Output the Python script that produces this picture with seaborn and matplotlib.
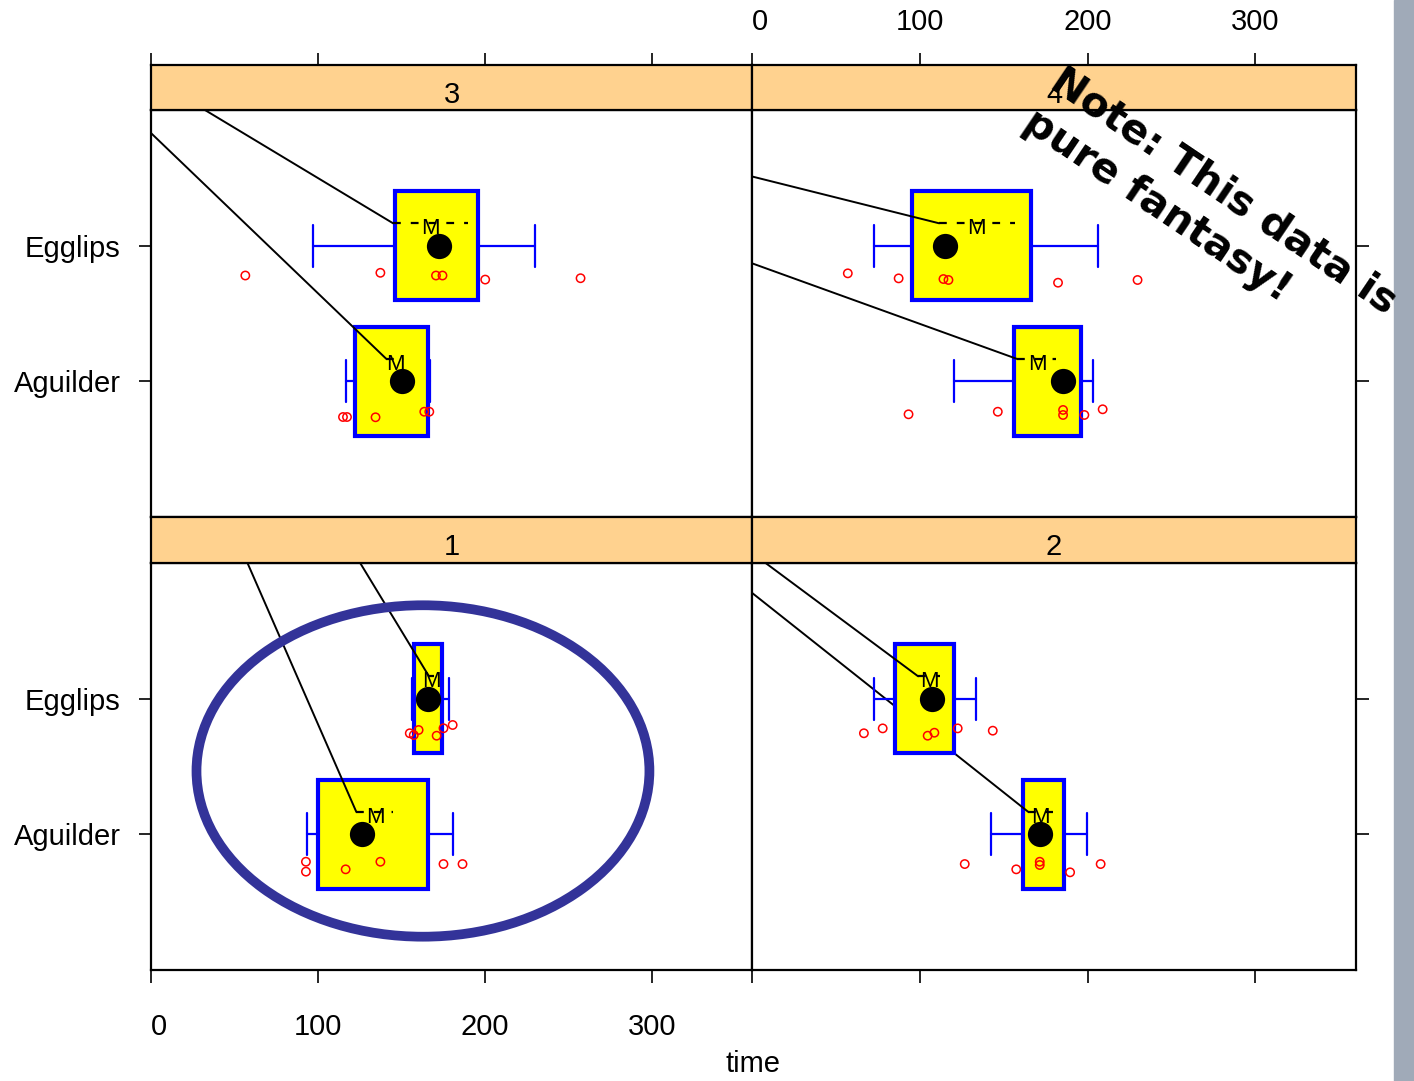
import numpy as np
import pandas as pd
import matplotlib
matplotlib.use("Agg")
import matplotlib.pyplot as plt
from matplotlib.patches import Ellipse, Rectangle
import seaborn as sns

# ---- data ----
panel_id = [1, 1, 2, 2, 3, 3, 4, 4]
group = ['Aguilder', 'Egglips'] * 4
q1 = [100.1, 157.3, 161.7, 85.3, 122.3, 146.3, 156.3, 95.1]
q3 = [165.8, 174.5, 185.7, 120.3, 165.7, 195.6, 195.9, 166.0]
whis_lo = [93.2, 156.2, 142.3, 72.8, 117.0, 97.0, 120.4, 72.8]
whis_hi = [180.9, 178.4, 199.4, 133.8, 167.3, 230.0, 203.5, 206.5]
median = [126.5, 165.8, 171.5, 107.5, 150.2, 172.3, 185.5, 115.3]
mean_lo = [123.0, 166.5, 164.7, 99.0, 141.0, 145.0, 158.0, 111.5]
mean_val = [134.5, 168.0, 172.2, 105.6, 146.4, 167.5, 170.0, 133.5]
mean_hi = [145.0, 169.5, 179.7, 112.0, 151.8, 189.6, 181.0, 157.0]
# where the connector lines enter each panel
link_x = [57.8, 125.3, 0.0, 8.1, 0.0, 32.3, 0.0, 0.0]
link_y = [3.0, 3.0, 2.78, 3.0, 2.83, 3.0, 1.87, 2.51]

pt_panel = [1] * 12 + [2] * 12 + [3] * 11 + [4] * 12
pt_group = (['Aguilder'] * 6 + ['Egglips'] * 6) * 2 + ['Aguilder'] * 5 + ['Egglips'] * 6 \
    + ['Aguilder'] * 6 + ['Egglips'] * 6
pt_x = [92.8, 92.8, 116.6, 137.4, 175.2, 186.6,
        155.0, 157.4, 160.3, 171.1, 175.2, 180.7,
        126.8, 157.5, 171.5, 171.5, 189.6, 207.8,
        66.7, 77.9, 104.7, 108.7, 122.6, 143.5,
        115.0, 117.4, 134.5, 163.7, 166.7,
        56.5, 137.4, 170.7, 174.6, 200.2, 257.3,
        93.3, 146.5, 185.4, 185.4, 198.1, 209.0,
        57.1, 87.4, 114.1, 117.1, 182.4, 229.8]
pt_y = [0.798, 0.725, 0.742, 0.798, 0.781, 0.781,
        1.745, 1.732, 1.769, 1.727, 1.782, 1.806,
        0.781, 0.742, 0.798, 0.774, 0.720, 0.781,
        1.745, 1.781, 1.727, 1.749, 1.781, 1.764,
        0.737, 0.737, 0.735, 0.776, 0.776,
        1.780, 1.800, 1.780, 1.780, 1.750, 1.760,
        0.757, 0.776, 0.789, 0.752, 0.752, 0.794,
        1.796, 1.759, 1.754, 1.747, 1.727, 1.747]

x_ticks = [0, 100, 200, 300]
x_tick_labels = ['0', '100', '200', '300']
y_levels = ['Aguilder', 'Egglips']

stats = pd.DataFrame({'panel': panel_id, 'group': group, 'q1': q1, 'q3': q3,
                      'whislo': whis_lo, 'whishi': whis_hi, 'med': median,
                      'mlo': mean_lo, 'mean': mean_val, 'mhi': mean_hi,
                      'lx': link_x, 'ly': link_y})
stats['ypos'] = stats['group'].map({g: i + 1 for i, g in enumerate(y_levels)})
pts = pd.DataFrame({'panel': pt_panel, 'group': pt_group, 'x': pt_x, 'y': pt_y})

sns.set_theme(style="white")
plt.rcParams['font.family'] = ['Liberation Sans', 'DejaVu Sans']

W, H = 1414, 1081
fig = plt.figure(figsize=(W / 100, H / 100), dpi=100)
fig.patch.set_facecolor('white')


def rect(x0, x1, y0, y1):
    return [x0 / W, 1 - y1 / H, (x1 - x0) / W, (y1 - y0) / H]


XLIM = (0, 360)
cols = [(151, 752), (752, 1356)]
rows = [(65, 110, 517), (517, 563, 970)]
layout = {3: (0, 0), 4: (0, 1), 1: (1, 0), 2: (1, 1)}

for p, (r, c) in layout.items():
    x0, x1 = cols[c]
    s0, s1, p1 = rows[r]
    ax = fig.add_axes(rect(x0, x1, s1, p1))
    sax = fig.add_axes(rect(x0, x1, s0, s1))

    sub = stats[stats['panel'] == p].sort_values('ypos')
    for k, (_, row) in enumerate(sub.iterrows()):
        z = 2 + 2 * k
        y = row['ypos']
        bs = dict(med=row['med'], q1=row['q1'], q3=row['q3'],
                  whislo=row['whislo'], whishi=row['whishi'], fliers=[])
        ax.bxp([bs], positions=[y], widths=0.8, orientation='horizontal',
               patch_artist=True, showfliers=False, manage_ticks=False,
               capwidths=[0.31],
               boxprops=dict(facecolor='#FFFF00', edgecolor='#0000FF', linewidth=3),
               whiskerprops=dict(color='#0000FF', linewidth=1.6),
               capprops=dict(color='#0000FF', linewidth=1.6),
               medianprops=dict(linewidth=0), zorder=z)
        ax.plot([row['lx'], row['mlo']], [row['ly'], y + 0.165],
                color='black', lw=1.4, zorder=z + 0.5)
        ax.plot([row['mlo'], row['mhi']], [y + 0.165, y + 0.165], color='black',
                lw=1.6, ls=(0, (3.5, 4.5)), zorder=z + 0.6)
        ax.text(row['mean'], y + 0.125, 'M', ha='center', va='center',
                fontsize=16, color='black', zorder=z + 0.7)

    sns.scatterplot(data=pts[pts['panel'] == p], x='x', y='y', marker='o', s=36,
                    facecolors='none', edgecolor='red', linewidth=1.1,
                    zorder=8, ax=ax, legend=False)
    sns.scatterplot(data=sub, x='med', y='ypos', s=330, color='black',
                    edgecolor='black', linewidth=0, zorder=9, ax=ax, legend=False)

    if p == 1:
        ax.add_patch(Ellipse((162.9, 1.467), 271.3, 2.443, fill=False,
                             edgecolor='#333399', lw=7, zorder=10))

    ax.set_xlim(XLIM)
    ax.set_ylim(0, 3)
    ax.set_xlabel('')
    ax.set_ylabel('')
    ax.set_yticks([1, 2], labels=y_levels)
    ax.set_xticks(x_ticks, labels=x_tick_labels)
    ax.tick_params(axis='y', left=(c == 0), right=(c == 1), labelleft=(c == 0),
                   labelright=False, length=9, width=1.2, pad=13, labelsize=21,
                   colors='black')
    ax.tick_params(axis='x', bottom=(r == 1), top=False,
                   labelbottom=(r == 1 and c == 0), length=9, width=1.2,
                   pad=22, labelsize=21, colors='black')
    if r == 1 and c == 0:
        ax.get_xticklabels()[0].set_horizontalalignment('left')

    sax.set_facecolor('#FFD28F')
    sax.set_xlim(XLIM)
    sax.set_ylim(0, 1)
    sax.set_yticks([])
    sax.text(0.5, 0.34, str(p), transform=sax.transAxes, ha='center',
             va='center', fontsize=21, color='black')
    if r == 0:
        sax.xaxis.tick_top()
        sax.set_xticks(x_ticks, labels=x_tick_labels)
        sax.tick_params(axis='x', top=True, bottom=False, labeltop=(c == 1),
                        labelbottom=False, length=9, width=1.2, pad=12,
                        labelsize=21, colors='black')
        if c == 1:
            sax.get_xticklabels()[0].set_horizontalalignment('left')
    else:
        sax.set_xticks([])

    for a in (ax, sax):
        for sp in a.spines.values():
            sp.set_color('black')
            sp.set_linewidth(1.6)

fig.text(753 / W, 1 - 1064 / H, 'time', ha='center', va='center',
         fontsize=21, color='black')
fig.add_artist(Rectangle((1394 / W, 0), 20 / W, 1, transform=fig.transFigure,
                         color='#A0AAB8', zorder=1))
fig.text(1066 / W, 1 - 61 / H, 'Note: This data is\npure fantasy!',
         rotation=-34, rotation_mode='anchor', ha='left', va='top',
         multialignment='left', linespacing=1.3, fontsize=29.5,
         fontweight='bold', family=['DejaVu Sans'], color='black', zorder=5)

fig.savefig('out.png', dpi=100)
